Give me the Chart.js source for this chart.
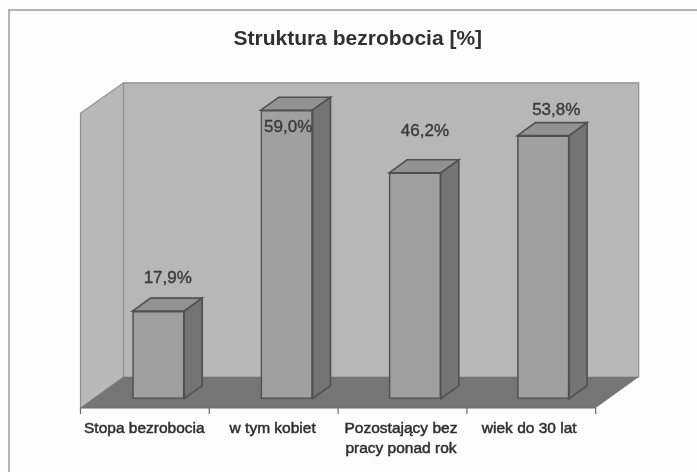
<!DOCTYPE html>
<html>
<head>
<meta charset="utf-8">
<style>html,body{margin:0;padding:0;background:#fdfdfd}canvas{display:block;filter:blur(0.5px)}</style>
<script src="https://cdn.jsdelivr.net/npm/chart.js@4"></script>
</head>
<body>
<canvas id="c" width="697" height="472" style="width:697px;height:472px"></canvas>
<script>
const categories = ['Stopa bezrobocia', 'w tym kobiet', ['Pozostający bez', 'pracy ponad rok'], 'wiek do 30 lat'];
const values = [17.9, 59.0, 46.2, 53.8];
const chartTitle = 'Struktura bezrobocia [%]';
const labelShift = [[9.4, -32.7], [1.5, 16.7], [10, -41], [13, -25]];

const scene = {
  id: 'scene',
  beforeDraw(chart) {
    const { ctx, width } = chart;
    ctx.save();
    ctx.strokeStyle = '#9a9a9a';
    ctx.lineWidth = 1.5;
    ctx.beginPath();
    ctx.moveTo(9, chart.height);
    ctx.lineTo(9, 10);
    ctx.lineTo(width, 10);
    ctx.stroke();
    ctx.restore();
  },
  beforeDatasetsDraw(chart) {
    const { ctx, chartArea: a } = chart;
    const fl = a.left - 13.7, fr = a.right - 11.7, fb = a.bottom + 9.3, ft = a.top + 8;
    const bl = fl + 43, br = fr + 43, bb = fb - 31, bt = ft - 30.5;
    const poly = (pts, fill, stroke, lw) => {
      ctx.beginPath();
      pts.forEach((p, i) => i ? ctx.lineTo(p[0], p[1]) : ctx.moveTo(p[0], p[1]));
      ctx.closePath();
      ctx.fillStyle = fill;
      ctx.fill();
      if (stroke) { ctx.strokeStyle = stroke; ctx.lineWidth = lw || 1; ctx.stroke(); }
    };
    ctx.save();
    poly([[fl, ft], [bl, bt], [bl, bb], [fl, fb]], '#b9b9b9', '#8f8f8f', 1.2);
    poly([[bl, bt], [br, bt], [br, bb], [bl, bb]], '#b7b7b7', '#8f8f8f', 1.2);
    poly([[fl, fb], [bl, bb], [br, bb], [fr, fb]], '#757575');
    ctx.strokeStyle = '#6a6a6a';
    ctx.lineWidth = 1.2;
    ctx.beginPath();
    ctx.moveTo(fl, fb); ctx.lineTo(fr, fb);
    for (let i = 0; i <= categories.length; i++) {
      const x = fl + (fr - fl) * i / categories.length;
      ctx.moveTo(x, fb); ctx.lineTo(x, fb + 6);
    }
    ctx.stroke();
    const dx = 18, dy = 13;
    chart.getDatasetMeta(0).data.forEach(el => {
      const r = el.x + el.width / 2, l = el.x - el.width / 2;
      poly([[l, el.y], [l + dx, el.y - dy], [r + dx, el.y - dy], [r, el.y]], '#929292', '#505050', 1.6);
      poly([[r, el.y], [r + dx, el.y - dy], [r + dx, el.base - dy], [r, el.base]], '#747474', '#505050', 1.6);
    });
    ctx.restore();
  },
  afterDatasetsDraw(chart) {
    const { ctx } = chart;
    ctx.save();
    ctx.font = '17px "Liberation Sans", Arial, sans-serif';
    ctx.fillStyle = '#3a3a3a';
    ctx.strokeStyle = '#3a3a3a';
    ctx.lineWidth = 0.4;
    ctx.textAlign = 'center';
    ctx.textBaseline = 'middle';
    chart.getDatasetMeta(0).data.forEach((el, i) => {
      const text = values[i].toFixed(1).replace('.', ',') + '%';
      ctx.fillText(text, el.x + labelShift[i][0], el.y + labelShift[i][1]);
      ctx.strokeText(text, el.x + labelShift[i][0], el.y + labelShift[i][1]);
    });
    ctx.restore();
  },
  afterLayout(chart) {
    chart.titleBlock.left += 7;
    chart.titleBlock.right += 7;
  }
};

new Chart(document.getElementById('c'), {
  type: 'bar',
  data: {
    labels: categories,
    datasets: [{
      data: values,
      backgroundColor: '#a0a0a0',
      borderColor: '#505050',
      borderWidth: 1.6,
      borderSkipped: false,
      barThickness: 51.7
    }]
  },
  plugins: [scene],
  options: {
    responsive: false,
    animation: false,
    layout: { padding: { left: 94.2, right: 89.6, top: 0, bottom: 0 } },
    plugins: {
      legend: { display: false },
      tooltip: { enabled: false },
      title: {
        display: true,
        text: chartTitle,
        color: '#303030',
        font: { family: '"Liberation Sans", Arial, sans-serif', size: 21, weight: 'bold', lineHeight: 1.2 },
        padding: { top: 26.4, bottom: 53.7 }
      }
    },
    scales: {
      x: {
        grid: { display: false },
        border: { display: false },
        afterFit: s => { s.height = 73.3; },
        ticks: {
          autoSkip: false,
          maxRotation: 0,
          minRotation: 0,
          labelOffset: -14,
          padding: 12,
          color: '#2e2e2e',
          textStrokeColor: '#2e2e2e',
          textStrokeWidth: 0.5,
          font: { family: '"Liberation Sans", Arial, sans-serif', size: 15.5, lineHeight: 1.3 }
        }
      },
      y: { display: false, min: 0, max: 60 }
    }
  }
});
</script>
</body>
</html>
